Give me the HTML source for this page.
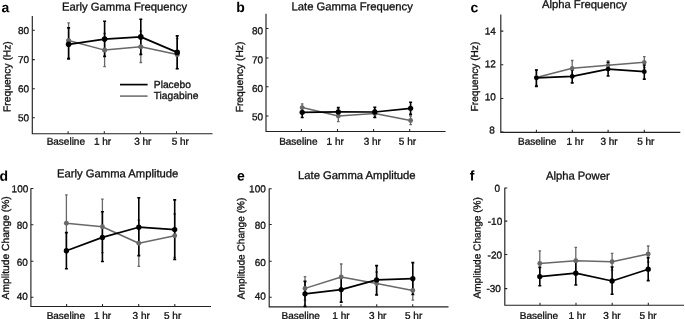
<!DOCTYPE html>
<html lang="en"><head><meta charset="utf-8"><title>Gamma and alpha frequency, amplitude and power: placebo vs tiagabine</title>
<style>
html,body{margin:0;padding:0;background:#fff;}
body{width:685px;height:319px;overflow:hidden;}
svg{display:block;font-family:"Liberation Sans",sans-serif;filter:blur(0.4px);text-rendering:geometricPrecision;}
.t{font-size:11.25px;fill:#111;stroke:#111;stroke-width:0.32;}
.k{font-size:10px;fill:#111;stroke:#111;stroke-width:0.32;}
.y{font-size:10.25px;fill:#111;stroke:#111;stroke-width:0.32;}
.b{font-size:14px;font-weight:bold;fill:#000;}
.ax{stroke:#222;stroke-width:1.15;fill:none;}
.tk{stroke:#222;stroke-width:1.05;fill:none;}
.lb{stroke:#000;stroke-width:1.7;fill:none;stroke-linejoin:round;}
.lg{stroke:#686868;stroke-width:1.5;fill:none;stroke-linejoin:round;}
.eb{stroke:#000;stroke-width:1.6;fill:none;}
.eg{stroke:#686868;stroke-width:1.3;fill:none;}
</style></head><body>
<svg width="685" height="319" viewBox="0 0 685 319">
<rect x="0" y="0" width="685" height="319" fill="#fff"/>
<g>
<path class="ax" d="M32.3 16V133.75H212.5"/>
<path class="tk" d="M32.3 30.2h2.5M32.3 59.6h2.5M32.3 88.8h2.5M32.3 117.7h2.5M68.1 133.75v-2.6M104.3 133.75v-2.6M140.4 133.75v-2.6M176.5 133.75v-2.6"/>
<text class="k" transform="translate(29 34) rotate(0.03)" text-anchor="end">80</text>
<text class="k" transform="translate(29 63.1) rotate(0.03)" text-anchor="end">70</text>
<text class="k" transform="translate(29 92.2) rotate(0.03)" text-anchor="end">60</text>
<text class="k" transform="translate(29 121.2) rotate(0.03)" text-anchor="end">50</text>
<text class="k" transform="translate(65.8 144.7) rotate(0.03)" text-anchor="middle">Baseline</text>
<text class="k" transform="translate(102.5 144.7) rotate(0.03)" text-anchor="middle">1 hr</text>
<text class="k" transform="translate(142.8 144.7) rotate(0.03)" text-anchor="middle">3 hr</text>
<text class="k" transform="translate(180.3 144.7) rotate(0.03)" text-anchor="middle">5 hr</text>
<text class="b" transform="translate(1.4 12.2) rotate(0.03)">a</text>
<text class="t" transform="translate(62 10.5) rotate(0.03)">Early Gamma Frequency</text>
<text class="y" transform="translate(10.6 111.9) rotate(-90.03)">Frequency (Hz)</text>
<path class="eg" d="M68.6 22.8V58M67.3 22.8h2.6M67.3 58h2.6M104.6 33.5V66.6M103.3 33.5h2.6M103.3 66.6h2.6M140.8 31V62.5M139.5 31h2.6M139.5 62.5h2.6M177.2 38.5V68.5M175.9 38.5h2.6M175.9 68.5h2.6"/>
<path class="eb" d="M68.6 27.9V58.9M67.1 27.9h3M67.1 58.9h3M104.6 21.2V56.4M103.1 21.2h3M103.1 56.4h3M140.8 19.2V54.4M139.3 19.2h3M139.3 54.4h3M177.2 35.9V68.7M175.7 35.9h3M175.7 68.7h3"/>
<polyline class="lg" points="68.6,40.5 104.6,50.1 140.8,46.7 177.2,54.4"/>
<circle cx="68.6" cy="40.5" r="2.5" fill="#686868"/>
<circle cx="104.6" cy="50.1" r="2.5" fill="#686868"/>
<circle cx="140.8" cy="46.7" r="2.5" fill="#686868"/>
<circle cx="177.2" cy="54.4" r="2.5" fill="#686868"/>
<polyline class="lb" points="68.6,44.3 104.6,39.1 140.8,36.9 177.2,52.4"/>
<circle cx="68.6" cy="44.3" r="2.8" fill="#000"/>
<circle cx="104.6" cy="39.1" r="2.8" fill="#000"/>
<circle cx="140.8" cy="36.9" r="2.8" fill="#000"/>
<circle cx="177.2" cy="52.4" r="2.8" fill="#000"/>
</g>
<g>
<path class="ax" d="M266 13.8V131.5H445.6"/>
<path class="tk" d="M266 28.5h2.5M266 57.9h2.5M266 86.7h2.5M266 115.9h2.5M301.4 131.5v-2.6M337.5 131.5v-2.6M373.6 131.5v-2.6M409.7 131.5v-2.6"/>
<text class="k" transform="translate(263 34.2) rotate(0.03)" text-anchor="end">80</text>
<text class="k" transform="translate(263 63.2) rotate(0.03)" text-anchor="end">70</text>
<text class="k" transform="translate(263 91.9) rotate(0.03)" text-anchor="end">60</text>
<text class="k" transform="translate(263 120.2) rotate(0.03)" text-anchor="end">50</text>
<text class="k" transform="translate(298.3 144.7) rotate(0.03)" text-anchor="middle">Baseline</text>
<text class="k" transform="translate(335.2 144.7) rotate(0.03)" text-anchor="middle">1 hr</text>
<text class="k" transform="translate(372.3 144.7) rotate(0.03)" text-anchor="middle">3 hr</text>
<text class="k" transform="translate(407.4 144.7) rotate(0.03)" text-anchor="middle">5 hr</text>
<text class="b" transform="translate(236.2 12.1) rotate(0.03)">b</text>
<text class="t" transform="translate(291.5 10.3) rotate(0.03)">Late Gamma Frequency</text>
<text class="y" transform="translate(243 112.3) rotate(-90.03)">Frequency (Hz)</text>
<path class="eg" d="M302.2 103.8V111.5M300.9 103.8h2.6M300.9 111.5h2.6M338.3 110.5V121.7M337 110.5h2.6M337 121.7h2.6M374.8 109.5V117.3M373.5 109.5h2.6M373.5 117.3h2.6M410.6 116V124.6M409.3 116h2.6M409.3 124.6h2.6"/>
<path class="eb" d="M302.2 107.2V117.5M300.7 107.2h3M300.7 117.5h3M338.3 107.6V116.2M336.8 107.6h3M336.8 116.2h3M374.8 107.3V117.5M373.3 107.3h3M373.3 117.5h3M410.6 102.2V114.4M409.1 102.2h3M409.1 114.4h3"/>
<polyline class="lg" points="302.2,107.6 338.3,116.1 374.8,113.4 410.6,120.5"/>
<circle cx="302.2" cy="107.6" r="2.45" fill="#686868"/>
<circle cx="338.3" cy="116.1" r="2.45" fill="#686868"/>
<circle cx="374.8" cy="113.4" r="2.45" fill="#686868"/>
<circle cx="410.6" cy="120.5" r="2.45" fill="#686868"/>
<polyline class="lb" points="302.2,112.3 338.3,111.9 374.8,112 410.6,108.3"/>
<circle cx="302.2" cy="112.3" r="2.65" fill="#000"/>
<circle cx="338.3" cy="111.9" r="2.65" fill="#000"/>
<circle cx="374.8" cy="112" r="2.65" fill="#000"/>
<circle cx="410.6" cy="108.3" r="2.65" fill="#000"/>
</g>
<g>
<path class="ax" d="M500.8 14.5V132.4H680.3"/>
<path class="tk" d="M500.8 31.1h2.5M500.8 64.8h2.5M500.8 98.4h2.5M500.8 132h2.5M536.4 132.4v-2.6M572.3 132.4v-2.6M608.1 132.4v-2.6M644.3 132.4v-2.6"/>
<text class="k" transform="translate(495.8 34.4) rotate(0.03)" text-anchor="end">14</text>
<text class="k" transform="translate(495.8 67.3) rotate(0.03)" text-anchor="end">12</text>
<text class="k" transform="translate(495.8 100.2) rotate(0.03)" text-anchor="end">10</text>
<text class="k" transform="translate(494.9 133.5) rotate(0.03)" text-anchor="end">8</text>
<text class="k" transform="translate(537.2 144.7) rotate(0.03)" text-anchor="middle">Baseline</text>
<text class="k" transform="translate(575.1 144.7) rotate(0.03)" text-anchor="middle">1 hr</text>
<text class="k" transform="translate(609 144.7) rotate(0.03)" text-anchor="middle">3 hr</text>
<text class="k" transform="translate(645.8 144.7) rotate(0.03)" text-anchor="middle">5 hr</text>
<text class="b" transform="translate(470.4 12.2) rotate(0.03)">c</text>
<text class="t" transform="translate(541.9 8.1) rotate(0.03)">Alpha Frequency</text>
<text class="y" style="font-size:10.12px" transform="translate(478 111.4) rotate(-90.03)">Frequency (Hz)</text>
<path class="eg" d="M536.4 70V85.5M535.1 70h2.6M535.1 85.5h2.6M572.2 60.5V76M570.9 60.5h2.6M570.9 76h2.6M608.1 60.9V69.7M606.8 60.9h2.6M606.8 69.7h2.6M644.3 56.7V67.7M643 56.7h2.6M643 67.7h2.6"/>
<path class="eb" d="M536.4 70V86.4M534.9 70h3M534.9 86.4h3M572.2 69.9V82.9M570.7 69.9h3M570.7 82.9h3M608.1 62.2V76M606.6 62.2h3M606.6 76h3M644.3 65V79.1M642.8 65h3M642.8 79.1h3"/>
<polyline class="lg" points="536.4,77.6 572.2,68.3 608.1,65.3 644.3,62.2"/>
<circle cx="536.4" cy="77.6" r="2.25" fill="#686868"/>
<circle cx="572.2" cy="68.3" r="2.25" fill="#686868"/>
<circle cx="608.1" cy="65.3" r="2.25" fill="#686868"/>
<circle cx="644.3" cy="62.2" r="2.25" fill="#686868"/>
<polyline class="lb" points="536.4,77.8 572.2,76.4 608.1,69.1 644.3,71.7"/>
<circle cx="536.4" cy="77.8" r="2.4" fill="#000"/>
<circle cx="572.2" cy="76.4" r="2.4" fill="#000"/>
<circle cx="608.1" cy="69.1" r="2.4" fill="#000"/>
<circle cx="644.3" cy="71.7" r="2.4" fill="#000"/>
</g>
<g>
<path class="ax" d="M30.9 188.2V306.5H211"/>
<path class="tk" d="M30.9 188.5h2.5M30.9 224.8h2.5M30.9 261.3h2.5M30.9 297.3h2.5M66.6 306.5v-2.6M102.5 306.5v-2.6M138.7 306.5v-2.6M174.8 306.5v-2.6"/>
<text class="k" transform="translate(28.3 192.2) rotate(0.03)" text-anchor="end">100</text>
<text class="k" transform="translate(27.9 228.8) rotate(0.03)" text-anchor="end">80</text>
<text class="k" transform="translate(27.9 265.8) rotate(0.03)" text-anchor="end">60</text>
<text class="k" transform="translate(27.9 299.7) rotate(0.03)" text-anchor="end">40</text>
<text class="k" transform="translate(65.8 319) rotate(0.03)" text-anchor="middle">Baseline</text>
<text class="k" transform="translate(102.5 319) rotate(0.03)" text-anchor="middle">1 hr</text>
<text class="k" transform="translate(141.2 319) rotate(0.03)" text-anchor="middle">3 hr</text>
<text class="k" transform="translate(172.6 319) rotate(0.03)" text-anchor="middle">5 hr</text>
<text class="b" transform="translate(-0.4 180.7) rotate(0.03)">d</text>
<text class="t" transform="translate(57 177.3) rotate(0.03)">Early Gamma Amplitude</text>
<text class="y" transform="translate(9.1 299.4) rotate(-90.03)">Amplitude Change (%)</text>
<path class="eg" d="M66.4 194.9V252.6M65.1 194.9h2.6M65.1 252.6h2.6M102.4 199.1V252.6M101.1 199.1h2.6M101.1 252.6h2.6M138.8 220.1V266.3M137.5 220.1h2.6M137.5 266.3h2.6M174.7 214V257.5M173.4 214h2.6M173.4 257.5h2.6"/>
<path class="eb" d="M66.4 232.6V268.8M64.9 232.6h3M64.9 268.8h3M102.4 211.8V261.5M100.9 211.8h3M100.9 261.5h3M138.8 197.8V255.6M137.3 197.8h3M137.3 255.6h3M174.7 199.9V259.5M173.2 199.9h3M173.2 259.5h3"/>
<polyline class="lg" points="66.4,223.3 102.4,226.8 138.8,243.2 174.7,235.7"/>
<circle cx="66.4" cy="223.3" r="2.45" fill="#686868"/>
<circle cx="102.4" cy="226.8" r="2.45" fill="#686868"/>
<circle cx="138.8" cy="243.2" r="2.45" fill="#686868"/>
<circle cx="174.7" cy="235.7" r="2.45" fill="#686868"/>
<polyline class="lb" points="66.4,250.7 102.4,237.4 138.8,227.2 174.7,229.6"/>
<circle cx="66.4" cy="250.7" r="2.65" fill="#000"/>
<circle cx="102.4" cy="237.4" r="2.65" fill="#000"/>
<circle cx="138.8" cy="227.2" r="2.65" fill="#000"/>
<circle cx="174.7" cy="229.6" r="2.65" fill="#000"/>
</g>
<g>
<path class="ax" d="M269.2 188.4V306.8H448.5"/>
<path class="tk" d="M269.2 188.7h2.5M269.2 224.5h2.5M269.2 261.3h2.5M269.2 297.2h2.5M304.8 306.8v-2.6M341 306.8v-2.6M376.7 306.8v-2.6M412.7 306.8v-2.6"/>
<text class="k" transform="translate(265.8 192.2) rotate(0.03)" text-anchor="end">100</text>
<text class="k" transform="translate(265.8 228.8) rotate(0.03)" text-anchor="end">80</text>
<text class="k" transform="translate(265.8 265.9) rotate(0.03)" text-anchor="end">60</text>
<text class="k" transform="translate(265.8 299.5) rotate(0.03)" text-anchor="end">40</text>
<text class="k" transform="translate(300.7 319) rotate(0.03)" text-anchor="middle">Baseline</text>
<text class="k" transform="translate(340.9 319) rotate(0.03)" text-anchor="middle">1 hr</text>
<text class="k" transform="translate(377.7 319) rotate(0.03)" text-anchor="middle">3 hr</text>
<text class="k" transform="translate(413.6 319) rotate(0.03)" text-anchor="middle">5 hr</text>
<text class="b" transform="translate(237.1 180.6) rotate(0.03)">e</text>
<text class="t" transform="translate(298 179) rotate(0.03)">Late Gamma Amplitude</text>
<text class="y" style="font-size:10.1px" transform="translate(244.4 299.2) rotate(-90.03)">Amplitude Change (%)</text>
<path class="eg" d="M305 276.6V300.2M303.7 276.6h2.6M303.7 300.2h2.6M341.2 264V290M339.9 264h2.6M339.9 290h2.6M376.6 272V294.5M375.3 272h2.6M375.3 294.5h2.6M412.8 280.8V300.2M411.5 280.8h2.6M411.5 300.2h2.6"/>
<path class="eb" d="M305 281.4V306.4M303.5 281.4h3M303.5 306.4h3M341.2 278V302.1M339.7 278h3M339.7 302.1h3M376.6 265.6V295M375.1 265.6h3M375.1 295h3M412.8 262.6V294.5M411.3 262.6h3M411.3 294.5h3"/>
<polyline class="lg" points="305,288.4 341.2,277 376.6,283.5 412.8,290.5"/>
<circle cx="305" cy="288.4" r="2.45" fill="#686868"/>
<circle cx="341.2" cy="277" r="2.45" fill="#686868"/>
<circle cx="376.6" cy="283.5" r="2.45" fill="#686868"/>
<circle cx="412.8" cy="290.5" r="2.45" fill="#686868"/>
<polyline class="lb" points="305,293.8 341.2,289.6 376.6,279.9 412.8,278.6"/>
<circle cx="305" cy="293.8" r="2.65" fill="#000"/>
<circle cx="341.2" cy="289.6" r="2.65" fill="#000"/>
<circle cx="376.6" cy="279.9" r="2.65" fill="#000"/>
<circle cx="412.8" cy="278.6" r="2.65" fill="#000"/>
</g>
<g>
<path class="ax" d="M504.8 187.8V305.25H684"/>
<path class="tk" d="M504.8 188h2.5M504.8 221.1h2.5M504.8 254.5h2.5M504.8 288.6h2.5M540 305.25v-2.6M576 305.25v-2.6M612.2 305.25v-2.6M648.3 305.25v-2.6"/>
<text class="k" transform="translate(500.1 191.8) rotate(0.03)" text-anchor="end">0</text>
<text class="k" transform="translate(502.2 224.7) rotate(0.03)" text-anchor="end">-10</text>
<text class="k" transform="translate(502 258.5) rotate(0.03)" text-anchor="end">-20</text>
<text class="k" transform="translate(500.9 292.1) rotate(0.03)" text-anchor="end">-30</text>
<text class="k" transform="translate(538.9 319) rotate(0.03)" text-anchor="middle">Baseline</text>
<text class="k" transform="translate(577.1 319) rotate(0.03)" text-anchor="middle">1 hr</text>
<text class="k" transform="translate(611.9 319) rotate(0.03)" text-anchor="middle">3 hr</text>
<text class="k" transform="translate(648 319) rotate(0.03)" text-anchor="middle">5 hr</text>
<text class="b" transform="translate(469.8 180.6) rotate(0.03)">f</text>
<text class="t" transform="translate(545.9 179.6) rotate(0.03)">Alpha Power</text>
<text class="y" style="font-size:10.1px" transform="translate(480.5 298.6) rotate(-90.03)">Amplitude Change (%)</text>
<path class="eg" d="M539.8 250.8V276M538.5 250.8h2.6M538.5 276h2.6M575.8 247.4V274M574.5 247.4h2.6M574.5 274h2.6M612.1 253.4V270.2M610.8 253.4h2.6M610.8 270.2h2.6M648.2 246V262M646.9 246h2.6M646.9 262h2.6"/>
<path class="eb" d="M539.8 267.4V285.8M538.3 267.4h3M538.3 285.8h3M575.8 261.4V285M574.3 261.4h3M574.3 285h3M612.1 267V294.2M610.6 267h3M610.6 294.2h3M648.2 257.6V280.6M646.7 257.6h3M646.7 280.6h3"/>
<polyline class="lg" points="539.8,263.5 575.8,260.8 612.1,261.8 648.2,254"/>
<circle cx="539.8" cy="263.5" r="2.45" fill="#686868"/>
<circle cx="575.8" cy="260.8" r="2.45" fill="#686868"/>
<circle cx="612.1" cy="261.8" r="2.45" fill="#686868"/>
<circle cx="648.2" cy="254" r="2.45" fill="#686868"/>
<polyline class="lb" points="539.8,276.6 575.8,273.2 612.1,281 648.2,269.2"/>
<circle cx="539.8" cy="276.6" r="2.65" fill="#000"/>
<circle cx="575.8" cy="273.2" r="2.65" fill="#000"/>
<circle cx="612.1" cy="281" r="2.65" fill="#000"/>
<circle cx="648.2" cy="269.2" r="2.65" fill="#000"/>
</g>
<g>
<path d="M120 84.6H147.6" stroke="#000" stroke-width="1.7"/>
<path d="M120 96.1H147.6" stroke="#686868" stroke-width="1.5"/>
<text class="k" style="font-size:10.25px" transform="translate(153.8 88) rotate(0.03)">Placebo</text>
<text class="k" style="font-size:10.25px" transform="translate(153.7 99.1) rotate(0.03)">Tiagabine</text>
</g>
</svg></body></html>
